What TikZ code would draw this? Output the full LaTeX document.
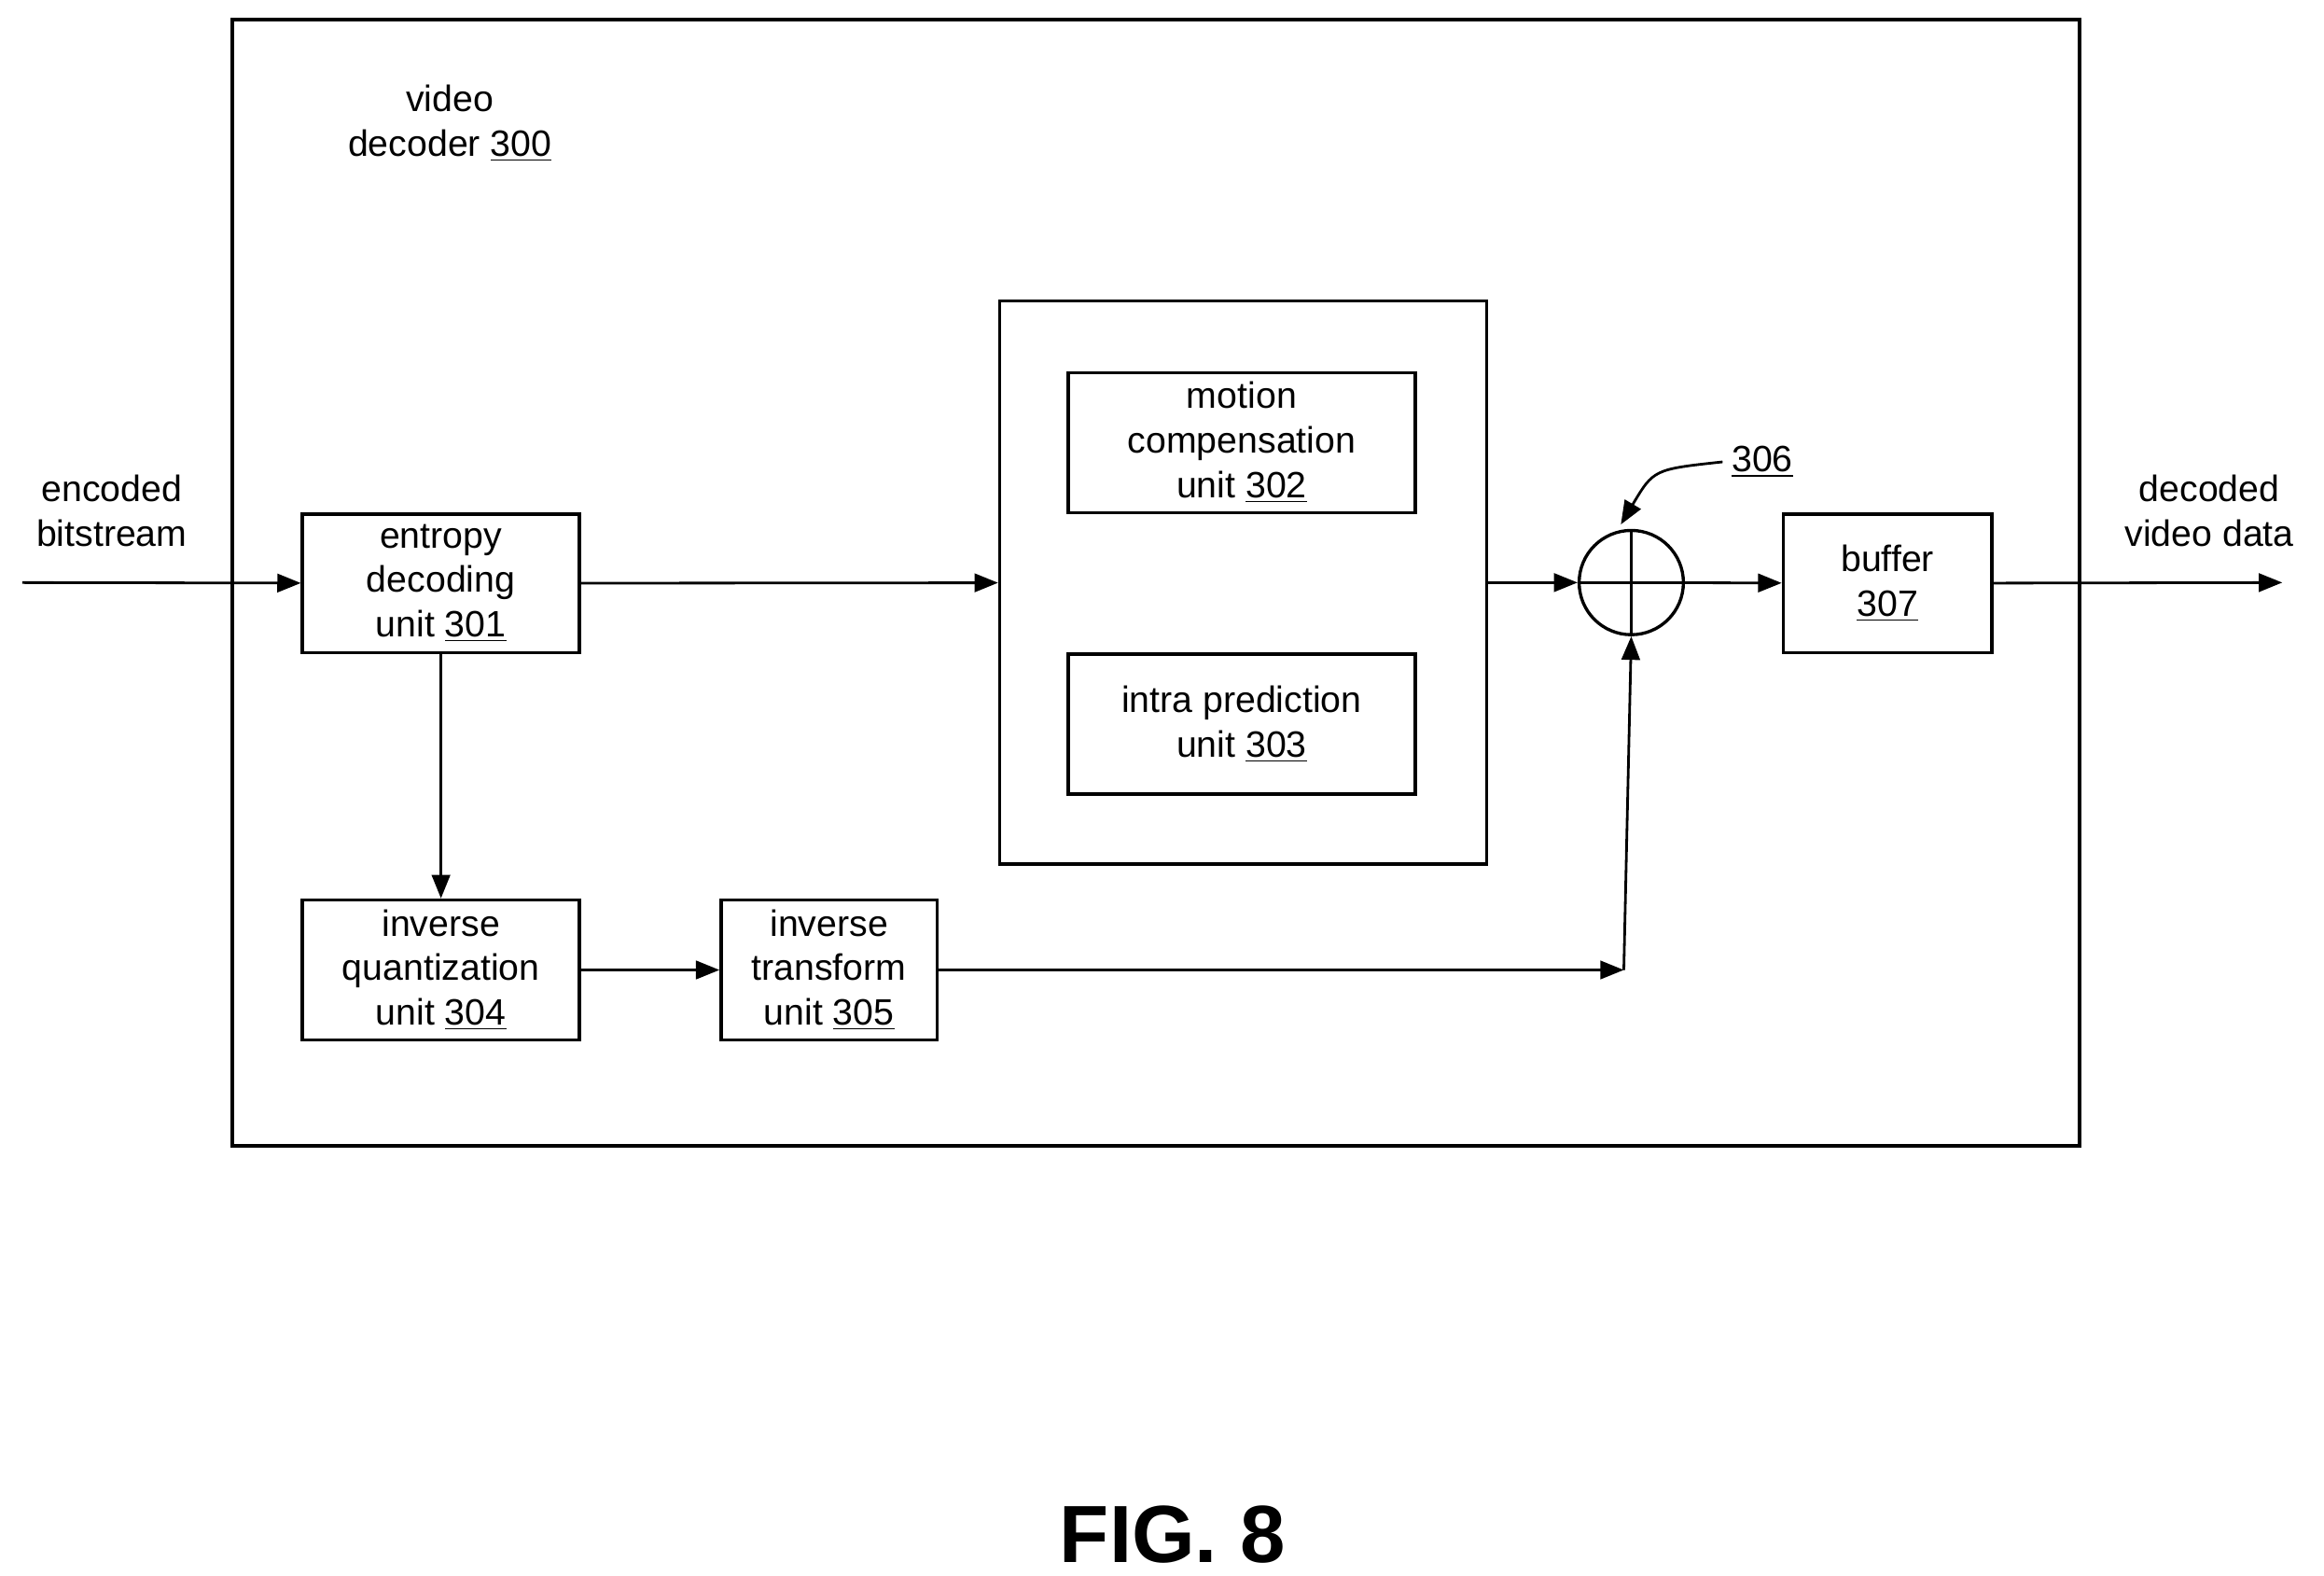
\documentclass[tikz,border=0pt]{standalone}
\usepackage{fontspec}
\setmainfont{Liberation Sans}
\usetikzlibrary{arrows.meta}
\begin{document}
\begin{tikzpicture}[x=0.02cm,y=-0.02cm,
  box/.style={draw,line width=1.2pt,inner sep=0pt},
  txt/.style={align=center,font=\fontsize{14}{17}\selectfont},
  arr/.style={-{Triangle[length=9pt,width=7pt]},line width=1pt}]
\useasboundingbox (0,0) rectangle (1560,1057.6);
\draw[line width=1.5pt] (156,13) rectangle (1396,769);
\node[txt] (vd) at (302,83) {video\\decoder \underline{300}};
\node[box,minimum width=3.72cm,minimum height=1.86cm,txt] (ent) at (296,391.5) {entropy\\decoding\\unit \underline{301}};
\node[box,minimum width=3.72cm,minimum height=1.88cm,txt] (iq) at (296,651) {inverse\\quantization\\unit \underline{304}};
\node[box,minimum width=2.9cm,minimum height=1.88cm,txt] (it) at (556.5,651) {inverse\\transform\\unit \underline{305}};
\node[box,minimum width=6.54cm,minimum height=7.56cm] (big) at (834.5,391) {};
\node[box,minimum width=4.66cm,minimum height=1.88cm,txt] (mc) at (833.5,297) {motion\\compensation\\unit \underline{302}};
\node[box,minimum width=4.66cm,minimum height=1.88cm,txt] (ip) at (833.5,486) {intra prediction\\unit \underline{303}};
\node[draw,circle,line width=1.2pt,minimum size=1.4cm,inner sep=0pt] (sum) at (1095,391) {};
\draw[line width=1pt] (sum.north)--(sum.south) (sum.west)--(sum.east);
\node[box,minimum width=2.8cm,minimum height=1.86cm,txt] (buf) at (1267,391.5) {buffer\\\underline{307}};
\node[txt] (in) at (75,343) {encoded\\bitstream};
\node[txt] (out) at (1483,343) {decoded\\video data};
\node[txt] (l306) at (1183,310) {\underline{306}};
\node[font=\bfseries\fontsize{31}{36}\selectfont] (fig) at (787,1030) {FIG. 8};
\coordinate (s) at (15,391);
\coordinate (e) at (1532,391);
\coordinate (j) at (1090,651);
\draw[arr] (s) -- (ent);
\draw[arr] (ent) -- (big);
\draw[arr] (big) -- (sum);
\draw[arr] (sum) -- (buf);
\draw[arr] (buf) -- (e);
\draw[arr] (ent) -- (iq);
\draw[arr] (iq) -- (it);
\draw[arr] (it.east|-j) -- (j);
\draw[arr] (j) -- (sum.south);
\draw[arr] (l306.west) .. controls (1110,315) .. (1088,352);
\end{tikzpicture}
\end{document}
